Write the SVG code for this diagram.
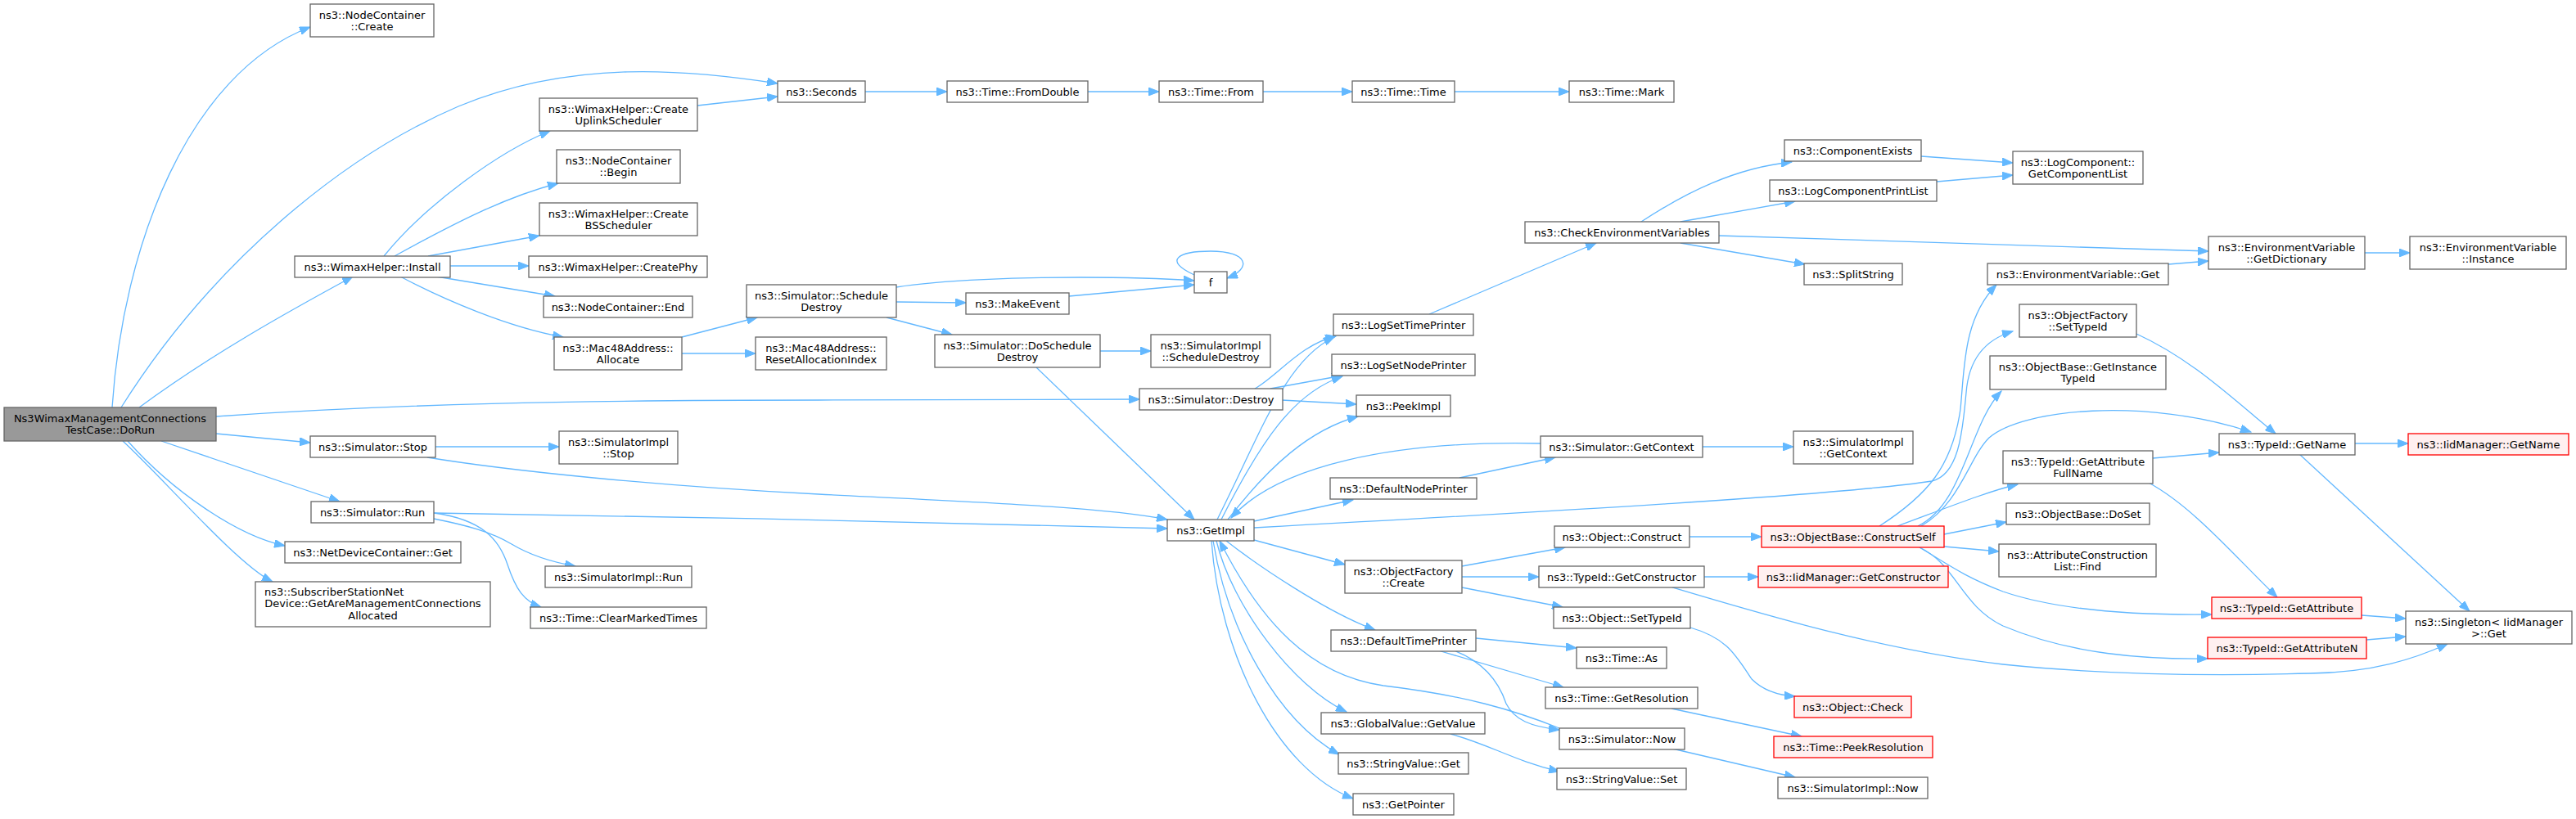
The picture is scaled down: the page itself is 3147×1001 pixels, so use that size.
<svg xmlns="http://www.w3.org/2000/svg" width="3147" height="1001" viewBox="0 0 3147 1001">
<style>
.node rect{fill:#ffffff;stroke:#666666;stroke-width:1.3}
.root rect{fill:#999999}
.red rect{fill:#fff0f0;stroke:#ff0000}
text{font-family:"DejaVu Sans","Liberation Sans",sans-serif;font-size:13px;text-anchor:middle;fill:#000000}
.edges path{fill:none;stroke:#63b8ff;stroke-width:1.3;marker-end:url(#ah)}
</style>
<defs>
<marker id="ah" markerUnits="userSpaceOnUse" markerWidth="14" markerHeight="10" refX="13" refY="5" orient="auto"><path d="M0,0 L13,5 L0,10 z" fill="#63b8ff" stroke="#63b8ff" stroke-width="1"/></marker>
</defs>
<rect x="0" y="0" width="3147" height="1001" fill="#ffffff"/>
<g class="edges">
<path d="M137,498 C150,300 230,90 379,33"/>
<path d="M148,498 C260,320 420,190 560,130 C700,72 840,85 950,102"/>
<path d="M170,498 C260,432 350,382 431,338"/>
<path d="M264,509 C480,494 700,489 1000,489 L1392,488"/>
<path d="M264,530 L379,541"/>
<path d="M197,539 L415,613"/>
<path d="M156,539 C210,600 290,655 348,667"/>
<path d="M150,539 C200,585 290,690 333,711"/>
<path d="M469,313 C520,250 610,185 672,160"/>
<path d="M482,313 C560,270 620,240 682,224"/>
<path d="M523,313 L659,288"/>
<path d="M550,325 L646,325"/>
<path d="M533,338 L678,362"/>
<path d="M489,338 C540,365 620,400 688,412"/>
<path d="M852,129 L950,118"/>
<path d="M1057,112 L1157,112"/>
<path d="M1329,112 L1416,112"/>
<path d="M1543,112 L1652,112"/>
<path d="M1777,112 L1917,112"/>
<path d="M833,412 L925,388"/>
<path d="M833,432 L923,432"/>
<path d="M1095,351 C1150,342 1250,339 1320,339 C1380,339 1430,341 1459,343"/>
<path d="M1095,369 L1180,370"/>
<path d="M1083,388 L1163,409"/>
<path d="M1306,362 L1459,348"/>
<path d="M1459,336 C1420,318 1440,307 1479,307 C1525,307 1530,328 1499,340"/>
<path d="M1344,429 L1406,429"/>
<path d="M1266,449 L1459,635"/>
<path d="M1533,475 C1560,460 1590,420 1632,411"/>
<path d="M1552,475 L1640,459"/>
<path d="M1566,489 L1657,494"/>
<path d="M1487,635 C1540,530 1570,440 1630,412"/>
<path d="M1492,635 C1540,540 1580,480 1640,460"/>
<path d="M1500,635 C1550,570 1600,525 1659,509"/>
<path d="M1882,542 C1700,538 1560,570 1504,633"/>
<path d="M1532,637 L1653,611"/>
<path d="M1532,645 C1900,625 2250,605 2360,588 C2395,580 2398,520 2402,480 C2405,440 2425,415 2459,405"/>
<path d="M2296,643 C2355,605 2385,570 2395,500 C2400,450 2398,390 2439,348"/>
<path d="M2318,643 C2380,620 2430,600 2465,592"/>
<path d="M2343,643 C2400,615 2405,520 2445,478"/>
<path d="M2347,643 C2395,615 2405,560 2430,535 C2470,500 2620,485 2750,528"/>
<path d="M2375,653 L2451,638"/>
<path d="M2375,668 L2442,674"/>
<path d="M2345,669 C2380,690 2400,705 2447,723 C2520,748 2620,752 2702,751"/>
<path d="M2345,669 C2390,690 2395,740 2447,765 C2530,800 2620,806 2697,805"/>
<path d="M2082,705 L2148,705"/>
<path d="M2043,718 C2150,750 2300,795 2447,812 C2600,828 2750,825 2822,823 C2900,822 2950,805 2990,787"/>
<path d="M2065,767 C2110,780 2120,800 2140,830 C2155,845 2175,850 2193,851"/>
<path d="M2042,866 L2201,900"/>
<path d="M2043,915 L2193,950"/>
<path d="M1772,897 C1820,910 1850,930 1905,943"/>
<path d="M1803,780 L1926,792"/>
<path d="M1757,795 L1910,840"/>
<path d="M1776,795 C1810,808 1830,830 1840,860 C1850,880 1870,888 1905,892"/>
<path d="M1905,890 C1850,868 1790,850 1690,838 C1600,825 1540,760 1490,661"/>
<path d="M1532,660 L1643,690"/>
<path d="M1498,661 C1535,690 1620,748 1680,770"/>
<path d="M1486,661 C1505,740 1580,840 1645,870"/>
<path d="M1482,661 C1500,770 1560,880 1636,922"/>
<path d="M1480,661 C1490,800 1560,940 1653,976"/>
<path d="M1783,584 L1900,559"/>
<path d="M2080,546 L2191,546"/>
<path d="M1786,692 L1912,669"/>
<path d="M1786,705 L1880,705"/>
<path d="M1786,718 L1909,742"/>
<path d="M2064,656 L2152,656"/>
<path d="M1746,384 L1950,297"/>
<path d="M2005,271 C2060,235 2120,205 2189,198"/>
<path d="M2053,271 L2193,246"/>
<path d="M2053,297 L2205,323"/>
<path d="M2100,288 C2300,295 2500,300 2698,307"/>
<path d="M2347,191 L2459,199"/>
<path d="M2366,222 L2459,214"/>
<path d="M2649,323 L2698,319"/>
<path d="M2889,309 L2944,309"/>
<path d="M2610,408 C2680,440 2730,490 2780,530"/>
<path d="M2877,542 L2942,542"/>
<path d="M2809,555 L3017,747"/>
<path d="M2630,560 L2711,553"/>
<path d="M2625,590 C2680,620 2730,680 2782,730"/>
<path d="M2885,752 L2939,756"/>
<path d="M2891,782 L2939,778"/>
<path d="M532,546 L683,546"/>
<path d="M522,559 C620,575 800,594 1000,604 C1200,614 1350,620 1426,635"/>
<path d="M530,627 C800,630 1200,640 1426,646"/>
<path d="M530,634 C570,642 600,650 625,665 C650,680 680,688 703,692"/>
<path d="M530,627 C590,635 610,660 620,690 C630,720 640,735 661,742"/>
</g>
<g id="n0" class="node root"><rect x="5" y="498" width="259" height="41"/><text x="134.5" y="515.5">Ns3WimaxManagementConnections</text><text x="134.5" y="529.5">TestCase::DoRun</text></g>
<g id="n1" class="node"><rect x="379" y="5" width="151" height="40"/><text x="454.5" y="22.5">ns3::NodeContainer</text><text x="454.5" y="36.5">::Create</text></g>
<g id="n2" class="node"><rect x="950" y="99" width="107" height="26"/><text x="1003.5" y="116.5">ns3::Seconds</text></g>
<g id="n3" class="node"><rect x="1157" y="99" width="172" height="26"/><text x="1243" y="116.5">ns3::Time::FromDouble</text></g>
<g id="n4" class="node"><rect x="1416" y="99" width="127" height="26"/><text x="1479.5" y="116.5">ns3::Time::From</text></g>
<g id="n5" class="node"><rect x="1652" y="99" width="125" height="26"/><text x="1714.5" y="116.5">ns3::Time::Time</text></g>
<g id="n6" class="node"><rect x="1917" y="99" width="128" height="26"/><text x="1981" y="116.5">ns3::Time::Mark</text></g>
<g id="n7" class="node"><rect x="360" y="313" width="190" height="26"/><text x="455" y="330.5">ns3::WimaxHelper::Install</text></g>
<g id="n8" class="node"><rect x="659" y="120" width="193" height="40"/><text x="755.5" y="137.5">ns3::WimaxHelper::Create</text><text x="755.5" y="151.5">UplinkScheduler</text></g>
<g id="n9" class="node"><rect x="680" y="183" width="151" height="41"/><text x="755.5" y="200.5">ns3::NodeContainer</text><text x="755.5" y="214.5">::Begin</text></g>
<g id="n10" class="node"><rect x="659" y="248" width="193" height="40"/><text x="755.5" y="265.5">ns3::WimaxHelper::Create</text><text x="755.5" y="279.5">BSScheduler</text></g>
<g id="n11" class="node"><rect x="646" y="313" width="218" height="26"/><text x="755" y="330.5">ns3::WimaxHelper::CreatePhy</text></g>
<g id="n12" class="node"><rect x="664" y="362" width="182" height="26"/><text x="755" y="379.5">ns3::NodeContainer::End</text></g>
<g id="n13" class="node"><rect x="677" y="412" width="156" height="40"/><text x="755" y="429.5">ns3::Mac48Address::</text><text x="755" y="443.5">Allocate</text></g>
<g id="n14" class="node"><rect x="912" y="348" width="183" height="40"/><text x="1003.5" y="365.5">ns3::Simulator::Schedule</text><text x="1003.5" y="379.5">Destroy</text></g>
<g id="n15" class="node"><rect x="923" y="412" width="160" height="40"/><text x="1003" y="429.5">ns3::Mac48Address::</text><text x="1003" y="443.5">ResetAllocationIndex</text></g>
<g id="n16" class="node"><rect x="1180" y="358" width="126" height="26"/><text x="1243" y="375.5">ns3::MakeEvent</text></g>
<g id="n17" class="node"><rect x="1142" y="409" width="202" height="40"/><text x="1243" y="426.5">ns3::Simulator::DoSchedule</text><text x="1243" y="440.5">Destroy</text></g>
<g id="n18" class="node"><rect x="1459" y="332" width="40" height="26"/><text x="1479" y="349.5">f</text></g>
<g id="n19" class="node"><rect x="1406" y="409" width="146" height="40"/><text x="1479" y="426.5">ns3::SimulatorImpl</text><text x="1479" y="440.5">::ScheduleDestroy</text></g>
<g id="n20" class="node"><rect x="1392" y="475" width="175" height="26"/><text x="1479.5" y="492.5">ns3::Simulator::Destroy</text></g>
<g id="n21" class="node"><rect x="1629" y="384" width="171" height="26"/><text x="1714.5" y="401.5">ns3::LogSetTimePrinter</text></g>
<g id="n22" class="node"><rect x="1627" y="433" width="175" height="26"/><text x="1714.5" y="450.5">ns3::LogSetNodePrinter</text></g>
<g id="n23" class="node"><rect x="1657" y="483" width="115" height="26"/><text x="1714.5" y="500.5">ns3::PeekImpl</text></g>
<g id="n24" class="node"><rect x="1863" y="271" width="237" height="26"/><text x="1981.5" y="288.5">ns3::CheckEnvironmentVariables</text></g>
<g id="n25" class="node"><rect x="2180" y="171" width="167" height="26"/><text x="2263.5" y="188.5">ns3::ComponentExists</text></g>
<g id="n26" class="node"><rect x="2162" y="220" width="204" height="26"/><text x="2264" y="237.5">ns3::LogComponentPrintList</text></g>
<g id="n27" class="node"><rect x="2459" y="185" width="159" height="40"/><text x="2538.5" y="202.5">ns3::LogComponent::</text><text x="2538.5" y="216.5">GetComponentList</text></g>
<g id="n28" class="node"><rect x="2204" y="322" width="120" height="26"/><text x="2264" y="339.5">ns3::SplitString</text></g>
<g id="n29" class="node"><rect x="2428" y="322" width="221" height="26"/><text x="2538.5" y="339.5">ns3::EnvironmentVariable::Get</text></g>
<g id="n30" class="node"><rect x="2698" y="289" width="191" height="40"/><text x="2793.5" y="306.5">ns3::EnvironmentVariable</text><text x="2793.5" y="320.5">::GetDictionary</text></g>
<g id="n31" class="node"><rect x="2944" y="289" width="191" height="40"/><text x="3039.5" y="306.5">ns3::EnvironmentVariable</text><text x="3039.5" y="320.5">::Instance</text></g>
<g id="n32" class="node"><rect x="2467" y="372" width="143" height="40"/><text x="2538.5" y="389.5">ns3::ObjectFactory</text><text x="2538.5" y="403.5">::SetTypeId</text></g>
<g id="n33" class="node"><rect x="2431" y="435" width="215" height="41"/><text x="2538.5" y="452.5">ns3::ObjectBase::GetInstance</text><text x="2538.5" y="466.5">TypeId</text></g>
<g id="n34" class="node"><rect x="2711" y="530" width="166" height="26"/><text x="2794" y="547.5">ns3::TypeId::GetName</text></g>
<g id="n35" class="node red"><rect x="2942" y="530" width="196" height="26"/><text x="3040" y="547.5">ns3::IidManager::GetName</text></g>
<g id="n36" class="node"><rect x="2447" y="551" width="183" height="40"/><text x="2538.5" y="568.5">ns3::TypeId::GetAttribute</text><text x="2538.5" y="582.5">FullName</text></g>
<g id="n37" class="node"><rect x="2451" y="615" width="175" height="26"/><text x="2538.5" y="632.5">ns3::ObjectBase::DoSet</text></g>
<g id="n38" class="node"><rect x="2442" y="665" width="192" height="40"/><text x="2538" y="682.5">ns3::AttributeConstruction</text><text x="2538" y="696.5">List::Find</text></g>
<g id="n39" class="node red"><rect x="2702" y="730" width="183" height="26"/><text x="2793.5" y="747.5">ns3::TypeId::GetAttribute</text></g>
<g id="n40" class="node red"><rect x="2697" y="779" width="194" height="26"/><text x="2794" y="796.5">ns3::TypeId::GetAttributeN</text></g>
<g id="n41" class="node"><rect x="2939" y="747" width="203" height="40"/><text x="3040.5" y="764.5">ns3::Singleton&lt; IidManager</text><text x="3040.5" y="778.5">&gt;::Get</text></g>
<g id="n42" class="node"><rect x="379" y="533" width="153" height="26"/><text x="455.5" y="550.5">ns3::Simulator::Stop</text></g>
<g id="n43" class="node"><rect x="683" y="527" width="145" height="40"/><text x="755.5" y="544.5">ns3::SimulatorImpl</text><text x="755.5" y="558.5">::Stop</text></g>
<g id="n44" class="node"><rect x="380" y="613" width="150" height="26"/><text x="455" y="630.5">ns3::Simulator::Run</text></g>
<g id="n45" class="node"><rect x="666" y="692" width="179" height="26"/><text x="755.5" y="709.5">ns3::SimulatorImpl::Run</text></g>
<g id="n46" class="node"><rect x="648" y="742" width="215" height="26"/><text x="755.5" y="759.5">ns3::Time::ClearMarkedTimes</text></g>
<g id="n47" class="node"><rect x="348" y="662" width="215" height="26"/><text x="455.5" y="679.5">ns3::NetDeviceContainer::Get</text></g>
<g id="n48" class="node"><rect x="312" y="711" width="287" height="55"/><text x="323" y="727.5" style="text-anchor:start">ns3::SubscriberStationNet</text><text x="455.5" y="742.3">Device::GetAreManagementConnections</text><text x="455.5" y="757">Allocated</text></g>
<g id="n49" class="node"><rect x="1426" y="635" width="106" height="26"/><text x="1479" y="652.5">ns3::GetImpl</text></g>
<g id="n50" class="node"><rect x="1625" y="584" width="179" height="26"/><text x="1714.5" y="601.5">ns3::DefaultNodePrinter</text></g>
<g id="n51" class="node"><rect x="1643" y="685" width="143" height="40"/><text x="1714.5" y="702.5">ns3::ObjectFactory</text><text x="1714.5" y="716.5">::Create</text></g>
<g id="n52" class="node"><rect x="1626" y="770" width="177" height="26"/><text x="1714.5" y="787.5">ns3::DefaultTimePrinter</text></g>
<g id="n53" class="node"><rect x="1614" y="871" width="200" height="26"/><text x="1714" y="888.5">ns3::GlobalValue::GetValue</text></g>
<g id="n54" class="node"><rect x="1635" y="920" width="159" height="26"/><text x="1714.5" y="937.5">ns3::StringValue::Get</text></g>
<g id="n55" class="node"><rect x="1653" y="970" width="123" height="26"/><text x="1714.5" y="987.5">ns3::GetPointer</text></g>
<g id="n56" class="node"><rect x="1882" y="533" width="198" height="26"/><text x="1981" y="550.5">ns3::Simulator::GetContext</text></g>
<g id="n57" class="node"><rect x="2191" y="527" width="146" height="40"/><text x="2264" y="544.5">ns3::SimulatorImpl</text><text x="2264" y="558.5">::GetContext</text></g>
<g id="n58" class="node"><rect x="1899" y="643" width="165" height="26"/><text x="1981.5" y="660.5">ns3::Object::Construct</text></g>
<g id="n59" class="node"><rect x="1880" y="692" width="202" height="26"/><text x="1981" y="709.5">ns3::TypeId::GetConstructor</text></g>
<g id="n60" class="node"><rect x="1898" y="742" width="167" height="26"/><text x="1981.5" y="759.5">ns3::Object::SetTypeId</text></g>
<g id="n61" class="node"><rect x="1926" y="791" width="110" height="26"/><text x="1981" y="808.5">ns3::Time::As</text></g>
<g id="n62" class="node"><rect x="1888" y="840" width="186" height="26"/><text x="1981" y="857.5">ns3::Time::GetResolution</text></g>
<g id="n63" class="node"><rect x="1905" y="890" width="153" height="26"/><text x="1981.5" y="907.5">ns3::Simulator::Now</text></g>
<g id="n64" class="node"><rect x="1902" y="939" width="158" height="26"/><text x="1981" y="956.5">ns3::StringValue::Set</text></g>
<g id="n65" class="node red"><rect x="2152" y="643" width="223" height="26"/><text x="2263.5" y="660.5">ns3::ObjectBase::ConstructSelf</text></g>
<g id="n66" class="node red"><rect x="2148" y="692" width="232" height="26"/><text x="2264" y="709.5">ns3::IidManager::GetConstructor</text></g>
<g id="n67" class="node red"><rect x="2192" y="851" width="143" height="26"/><text x="2263.5" y="868.5">ns3::Object::Check</text></g>
<g id="n68" class="node red"><rect x="2167" y="900" width="194" height="26"/><text x="2264" y="917.5">ns3::Time::PeekResolution</text></g>
<g id="n69" class="node"><rect x="2172" y="950" width="183" height="26"/><text x="2263.5" y="967.5">ns3::SimulatorImpl::Now</text></g>
</svg>
